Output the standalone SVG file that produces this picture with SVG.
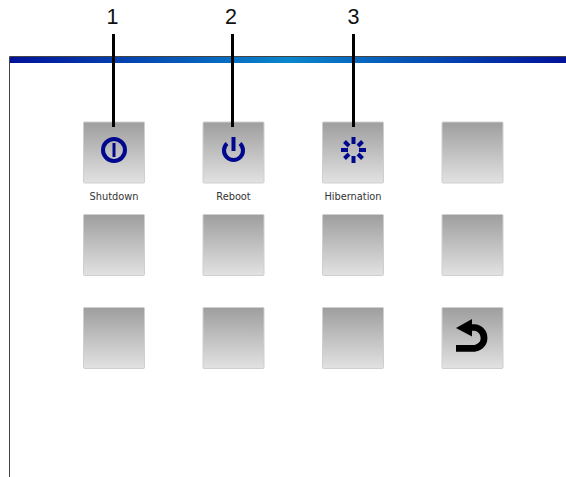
<svg xmlns="http://www.w3.org/2000/svg" width="566" height="477" viewBox="0 0 566 477">
<defs>
<linearGradient id="bar" x1="0" y1="0" x2="1" y2="0"><stop offset="0" stop-color="#00129a"/><stop offset="0.5" stop-color="#0a86cc"/><stop offset="1" stop-color="#00129a"/></linearGradient>
<linearGradient id="btn" x1="0" y1="0" x2="0" y2="1"><stop offset="0" stop-color="#9e9e9e"/><stop offset="1" stop-color="#e2e2e2"/></linearGradient>
<rect id="b" width="61" height="61" rx="1" fill="url(#btn)" stroke="#cfcfcf" stroke-width="1"/>
</defs>
<style>
.lbl{font-family:"DejaVu Sans",Verdana,sans-serif;font-size:9.8px;fill:#333;text-anchor:middle}
.num{font-family:"Liberation Sans",Arial,sans-serif;font-size:21.5px;fill:#111;text-anchor:middle}
.ic{fill:none;stroke:#00088f;stroke-width:4}
.lead{stroke:#000;stroke-width:3;fill:none}
</style>
<rect width="566" height="477" fill="#fff"/>
<g id="window">
<rect x="9" y="57" width="557" height="6" fill="url(#bar)"/>
<path d="M9.500 477V56.500H566" fill="none" stroke="#444" stroke-width="1"/>
</g>
<g id="btn-shutdown"><use href="#b" x="83.500" y="122"/>
<circle class="ic" cx="114" cy="150" r="11"/><path d="M114 143V157" class="ic" style="stroke-width:3"/>
<text class="lbl" x="114" y="200">Shutdown</text></g>
<g id="btn-reboot"><use href="#b" x="203" y="122"/>
<path class="ic" d="M227 143.500A9.500 9.500 0 1 0 240 143.500"/><path class="ic" d="M233.500 137V151"/>
<text class="lbl" x="233.500" y="200">Reboot</text></g>
<g id="btn-hibernation"><use href="#b" x="322.500" y="122"/>
<g stroke="#00088f" stroke-width="4" fill="none"><path d="M353.500 137V144M353.500 156V163M341 150H348M359 150H366M344.500 141.500L349 146M362.500 141.500L358 146M344.500 158.500L349 154M362.500 158.500L358 154"/></g>
<text class="lbl" x="353" y="200">Hibernation</text></g>
<g id="btn-4"><use href="#b" x="442" y="122"/></g>
<g id="btn-5"><use href="#b" x="83.500" y="214.500"/></g>
<g id="btn-6"><use href="#b" x="203" y="214.500"/></g>
<g id="btn-7"><use href="#b" x="322.500" y="214.500"/></g>
<g id="btn-8"><use href="#b" x="442" y="214.500"/></g>
<g id="btn-9"><use href="#b" x="83.500" y="307.500"/></g>
<g id="btn-10"><use href="#b" x="203" y="307.500"/></g>
<g id="btn-11"><use href="#b" x="322.500" y="307.500"/></g>
<g id="btn-back"><use href="#b" x="442" y="307.500"/>
<path d="M456 348.300H475A10.500 10.500 0 0 0 475 327.500H468" fill="none" stroke="#000" stroke-width="6.700"/><path d="M456 328L472 319V336.500Z" fill="#000"/></g>
<g id="connectors">
<path class="lead" d="M113.500 34V127"/><path class="lead" d="M232.500 34V127"/><path class="lead" d="M353.500 34V127"/>
<text class="num" x="112.500" y="24">1</text><text class="num" x="231" y="24">2</text><text class="num" x="353.500" y="24">3</text>
</g>
</svg>
